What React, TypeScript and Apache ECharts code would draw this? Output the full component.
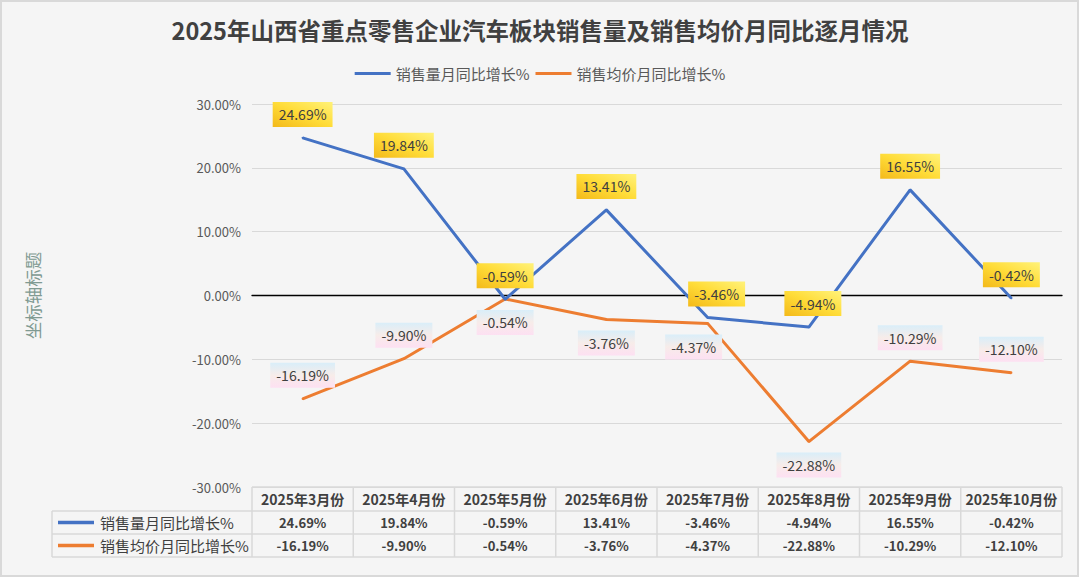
import React, { useEffect, useRef } from "react";
import * as echarts from "echarts";

const titleText = "2025年山西省重点零售企业汽车板块销售量及销售均价月同比逐月情况";
const axisTitle = "坐标轴标题";
const categories = [
  "2025年3月份",
  "2025年4月份",
  "2025年5月份",
  "2025年6月份",
  "2025年7月份",
  "2025年8月份",
  "2025年9月份",
  "2025年10月份",
];
const seriesNames = ["销售量月同比增长%", "销售均价月同比增长%"];
const volumeYoY = [24.69, 19.84, -0.59, 13.41, -3.46, -4.94, 16.55, -0.42];
const priceYoY = [-16.19, -9.9, -0.54, -3.76, -4.37, -22.88, -10.29, -12.1];
const yMin = -30;
const yMax = 30;
const yStep = 10;

const FONT = "'Noto Sans CJK SC', 'Noto Sans', sans-serif";
const BLUE = "#4472c4";
const ORANGE = "#ed7d31";
const TEXT = "#404040";
const GRIDC = "#d9d9d9";

const volPlacement = ["top", "top", "top", "top", "top", "top", "top", "top"];
const volShift = [[0, 0], [0, 0], [0, 0], [0, 0], [9, 0], [4, 0], [0, 0], [0, 0]];
const pricePlacement = ["top", "top", "bottom", "bottom", "bottom", "bottom", "top", "top"];
const priceShift = [[0, 0], [0, 0], [0, 0], [0, 0], [-14, 0], [0, 0], [0, 0], [0, 0]];

const fmt = (v: number) => v.toFixed(2) + "%";

export default function App() {
  const ref = useRef<HTMLDivElement>(null);
  useEffect(() => {
    if (!ref.current) return;
    const chart = echarts.init(ref.current, null, { renderer: "svg" });
    const yellowBg = new echarts.graphic.LinearGradient(0, 1, 1, 0, [
      { offset: 0, color: "#f3b91a" },
      { offset: 0.5, color: "#ffdc38" },
      { offset: 1, color: "#fff27a" },
    ]);
    const pastelBg = new echarts.graphic.LinearGradient(0, 0, 0, 1, [
      { offset: 0, color: "#d9eef9" },
      { offset: 0.5, color: "#f7ece9" },
      { offset: 1, color: "#fde0f2" },
    ]);
    const baseLabel = {
      show: true,
      fontSize: 14,
      fontFamily: FONT,
      color: TEXT,
      lineHeight: 17,
      padding: [4, 6, 4, 6],
      distance: 10,
      formatter: (p: any) => fmt(p.value),
    };
    const option: any = {
      animation: false,
      backgroundColor: "transparent",
      textStyle: { fontFamily: FONT },
      title: {
        text: titleText,
        left: "center",
        top: 13,
        textStyle: { fontSize: 23.5, fontWeight: "bold", color: TEXT, fontFamily: FONT },
      },
      legend: {
        top: 61,
        left: "center",
        icon: "rect",
        itemWidth: 36,
        itemHeight: 3,
        itemGap: 6,
        textStyle: { fontSize: 15, color: "#595959", fontFamily: FONT },
        data: seriesNames,
      },
      grid: { left: 252, right: 18, top: 104, bottom: 91 },
      xAxis: {
        type: "category",
        data: categories,
        boundaryGap: true,
        axisLine: { onZero: true, lineStyle: { color: "#000", width: 1.3 } },
        axisTick: { show: false },
        axisLabel: { show: false },
        splitLine: { show: false },
      },
      yAxis: {
        type: "value",
        min: yMin,
        max: yMax,
        interval: yStep,
        axisLine: { show: false },
        axisTick: { show: false },
        axisLabel: {
          formatter: (v: number) => fmt(v),
          fontSize: 13,
          color: "#595959",
          margin: 11,
          fontFamily: FONT,
        },
        splitLine: { lineStyle: { color: GRIDC, width: 1 } },
      },
      series: [
        {
          name: seriesNames[0],
          type: "line",
          symbol: "circle",
          symbolSize: 2,
          showSymbol: true,
          itemStyle: { color: BLUE },
          lineStyle: { color: BLUE, width: 3 },
          label: { ...baseLabel, backgroundColor: yellowBg },
          data: volumeYoY.map((v, i) => ({
            value: v,
            label: { position: volPlacement[i], offset: volShift[i] },
          })),
          z: 3,
        },
        {
          name: seriesNames[1],
          type: "line",
          symbol: "circle",
          symbolSize: 2,
          showSymbol: true,
          itemStyle: { color: ORANGE },
          lineStyle: { color: ORANGE, width: 3 },
          label: { ...baseLabel, backgroundColor: pastelBg },
          data: priceYoY.map((v, i) => ({
            value: v,
            label: { position: pricePlacement[i], offset: priceShift[i] },
          })),
          z: 2,
        },
      ],
    };
    chart.setOption(option);

    // Build data table aligned with the category axis
    const c0 = chart.convertToPixel({ xAxisIndex: 0 }, categories[0]) as number;
    const c1 = chart.convertToPixel({ xAxisIndex: 0 }, categories[1]) as number;
    const band = c1 - c0;
    const left = c0 - band / 2;
    const right = left + band * categories.length;
    const top = chart.convertToPixel({ yAxisIndex: 0 }, yMin) as number;
    const rowH = [24, 23, 23];
    const r1 = top + rowH[0];
    const r2 = r1 + rowH[1];
    const r3 = r2 + rowH[2];
    const tableLeft = 52;
    const lineStyle = { stroke: GRIDC, lineWidth: 1.5 };
    const els: any[] = [];
    els.push({ type: "line", shape: { x1: left, y1: top, x2: right, y2: top }, style: lineStyle, silent: true });
    [r1, r2, r3].forEach((y) =>
      els.push({ type: "line", shape: { x1: tableLeft, y1: y, x2: right, y2: y }, style: lineStyle, silent: true })
    );
    els.push({ type: "line", shape: { x1: tableLeft, y1: r1, x2: tableLeft, y2: r3 }, style: lineStyle, silent: true });
    for (let i = 0; i <= categories.length; i++) {
      const x = left + band * i;
      els.push({ type: "line", shape: { x1: x, y1: top, x2: x, y2: r3 }, style: lineStyle, silent: true });
    }
    categories.forEach((c, i) => {
      const cx = chart.convertToPixel({ xAxisIndex: 0 }, c) as number;
      els.push({
        type: "text",
        x: cx,
        y: (top + r1) / 2,
        style: { text: c, fontSize: 14, fontWeight: "bold", fill: TEXT, fontFamily: FONT, align: "center", verticalAlign: "middle" },
        silent: true,
      });
      els.push({
        type: "text",
        x: cx,
        y: (r1 + r2) / 2,
        style: { text: fmt(volumeYoY[i]), fontSize: 13, fontWeight: "bold", fill: TEXT, fontFamily: FONT, align: "center", verticalAlign: "middle" },
        silent: true,
      });
      els.push({
        type: "text",
        x: cx,
        y: (r2 + r3) / 2,
        style: { text: fmt(priceYoY[i]), fontSize: 13, fontWeight: "bold", fill: TEXT, fontFamily: FONT, align: "center", verticalAlign: "middle" },
        silent: true,
      });
    });
    const rowsY = [(r1 + r2) / 2, (r2 + r3) / 2];
    const colors = [BLUE, ORANGE];
    seriesNames.forEach((n, i) => {
      els.push({
        type: "line",
        shape: { x1: 58, y1: rowsY[i], x2: 94, y2: rowsY[i] },
        style: { stroke: colors[i], lineWidth: 3.5 },
        silent: true,
      });
      els.push({
        type: "text",
        x: 100,
        y: rowsY[i],
        style: { text: n, fontSize: 15, fill: TEXT, fontFamily: FONT, align: "left", verticalAlign: "middle" },
        silent: true,
      });
    });
    els.push({
      type: "text",
      x: 32,
      y: chart.convertToPixel({ yAxisIndex: 0 }, 0) as number,
      rotation: Math.PI / 2,
      style: { text: axisTitle, fontSize: 17.5, fill: "#809a92", fontFamily: FONT, align: "center", verticalAlign: "middle" },
      silent: true,
    });

    chart.setOption({
      graphic: [
        {
          type: "rect",
          z: -10,
          silent: true,
          shape: { x: 1, y: 1, width: 1077, height: 575 },
          style: { fill: "#f5f5f5", stroke: "#d9d9d9", lineWidth: 2 },
        },
        ...els,
      ],
    });

    return () => chart.dispose();
  }, []);
  return (
    <div
      ref={ref}
      style={{ position: "fixed", left: 0, top: 0, width: 1080, height: 578, background: "#ffffff" }}
    />
  );
}
